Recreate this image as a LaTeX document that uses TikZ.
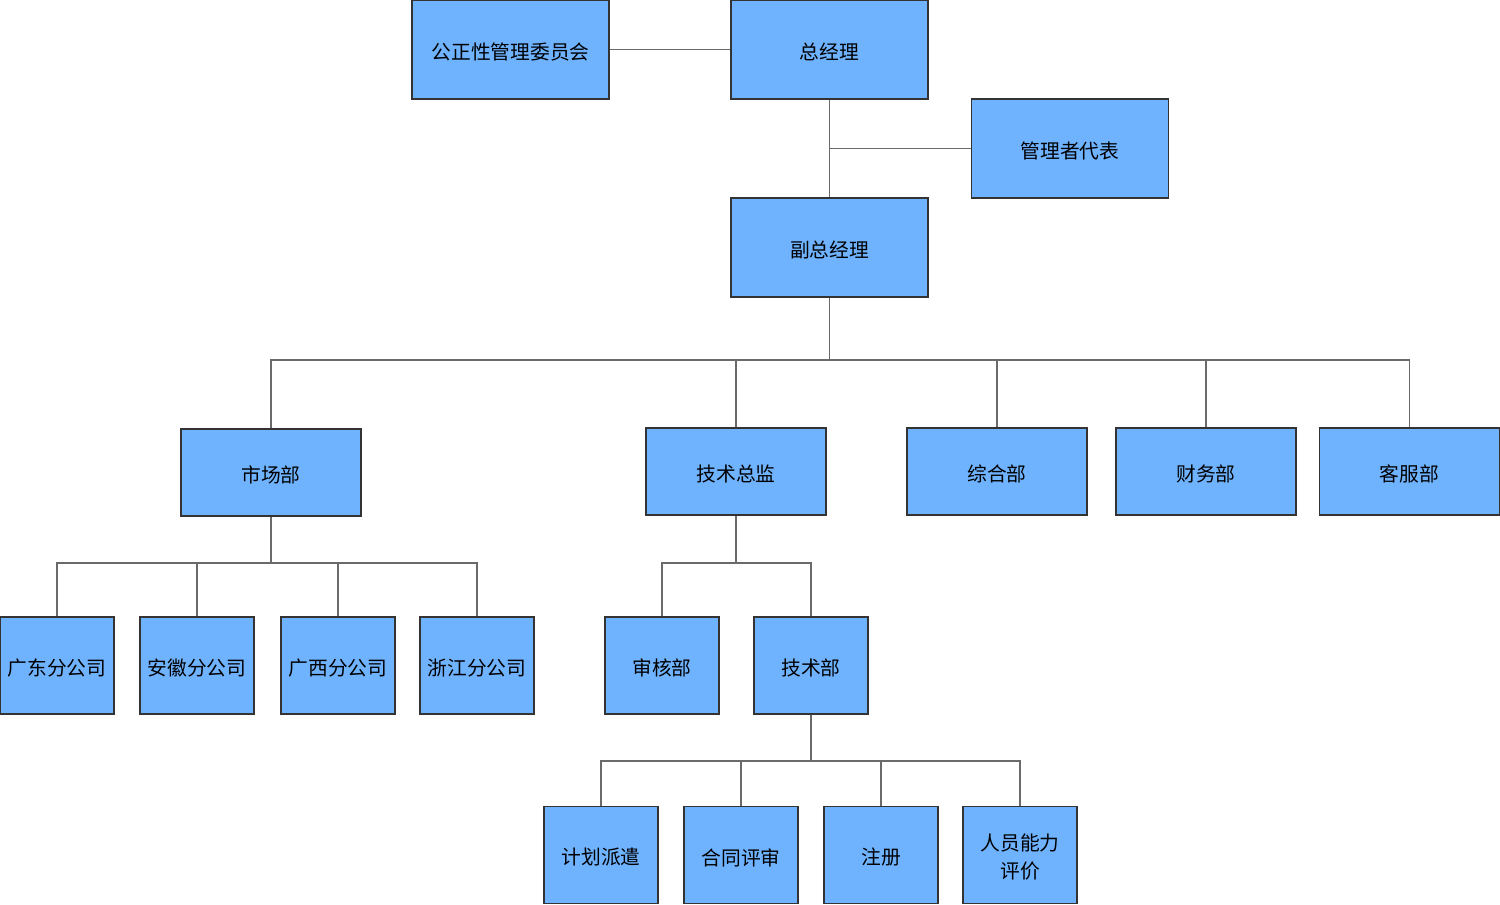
\documentclass[tikz,border=0pt]{standalone}
\usepackage{fontspec}
\setmainfont{Noto Sans CJK SC}
\definecolor{boxfill}{HTML}{6FB3FF}
\definecolor{boxline}{HTML}{333333}
\definecolor{conn}{HTML}{6A6A6A}
\tikzset{
  box/.style={draw=boxline, fill=boxfill, line width=1.2pt, inner sep=0pt},
  lbl/.style={inner sep=0pt, align=center, yshift=-2.5pt,
    font=\fontsize{19.75pt}{28pt}\selectfont, text=black},
  bigbox/.style={box, minimum width=197pt, minimum height=99pt},
  midbox/.style={box, minimum width=180pt, minimum height=87pt},
  smallbox/.style={box, minimum width=114pt, minimum height=97pt},
  link/.style={draw=conn, line width=1.2pt},
}
\begin{document}
\begin{tikzpicture}[x=1pt, y=-1pt]
\useasboundingbox (0,0) rectangle (1500,905);
% top
\node[bigbox, label={[lbl]center:公正性管理委员会}] (gzx) at (510.5,49.5) {};
\node[bigbox, label={[lbl]center:总经理}] (zjl) at (829.5,49.5) {};
\node[bigbox, label={[lbl]center:管理者代表}] (glz) at (1070,148.5) {};
\node[bigbox, label={[lbl]center:副总经理}] (fzjl) at (829.5,247.5) {};
% level 2
\node[midbox, label={[lbl]center:市场部}] (scb) at (271,472.5) {};
\node[midbox, label={[lbl]center:技术总监}] (jszj) at (736,471.5) {};
\node[midbox, label={[lbl]center:综合部}] (zhb) at (997,471.5) {};
\node[midbox, label={[lbl]center:财务部}] (cwb) at (1206,471.5) {};
\node[midbox, label={[lbl]center:客服部}] (kfb) at (1409.5,471.5) {};
% level 3
\node[smallbox, label={[lbl]center:广东分公司}] (gd) at (57,665.5) {};
\node[smallbox, label={[lbl]center:安徽分公司}] (ah) at (197,665.5) {};
\node[smallbox, label={[lbl]center:广西分公司}] (gx) at (338,665.5) {};
\node[smallbox, label={[lbl]center:浙江分公司}] (zj) at (477,665.5) {};
\node[smallbox, label={[lbl]center:审核部}] (shb) at (662,665.5) {};
\node[smallbox, label={[lbl]center:技术部}] (jsb) at (811,665.5) {};
% level 4
\node[smallbox, label={[lbl]center:计划派遣}] (jh) at (601,855) {};
\node[smallbox, label={[lbl]center:合同评审}] (ht) at (741,855) {};
\node[smallbox, label={[lbl]center:注册}] (zc) at (881,855) {};
\node[smallbox, label={[lbl]center:{人员能力\\评价}}] (ry) at (1020,855) {};
% connectors
\draw[link] (gzx.east) -- (zjl.west);
\draw[link] (zjl.south) -- (fzjl.north);
\draw[link] (glz.west) -- (zjl.south |- glz.west);
\coordinate (b1) at (829.5,360);
\draw[link] (fzjl.south) -- (b1);
\foreach \c in {scb,jszj,zhb,cwb,kfb} \draw[link] (b1) -| (\c.north);
\coordinate (b2) at (271,563);
\draw[link] (scb.south) -- (b2);
\foreach \c in {gd,ah,gx,zj} \draw[link] (b2) -| (\c.north);
\coordinate (b3) at (736,563);
\draw[link] (jszj.south) -- (b3);
\foreach \c in {shb,jsb} \draw[link] (b3) -| (\c.north);
\coordinate (b4) at (811,761);
\draw[link] (jsb.south) -- (b4);
\foreach \c in {jh,ht,zc,ry} \draw[link] (b4) -| (\c.north);
\end{tikzpicture}
\end{document}
